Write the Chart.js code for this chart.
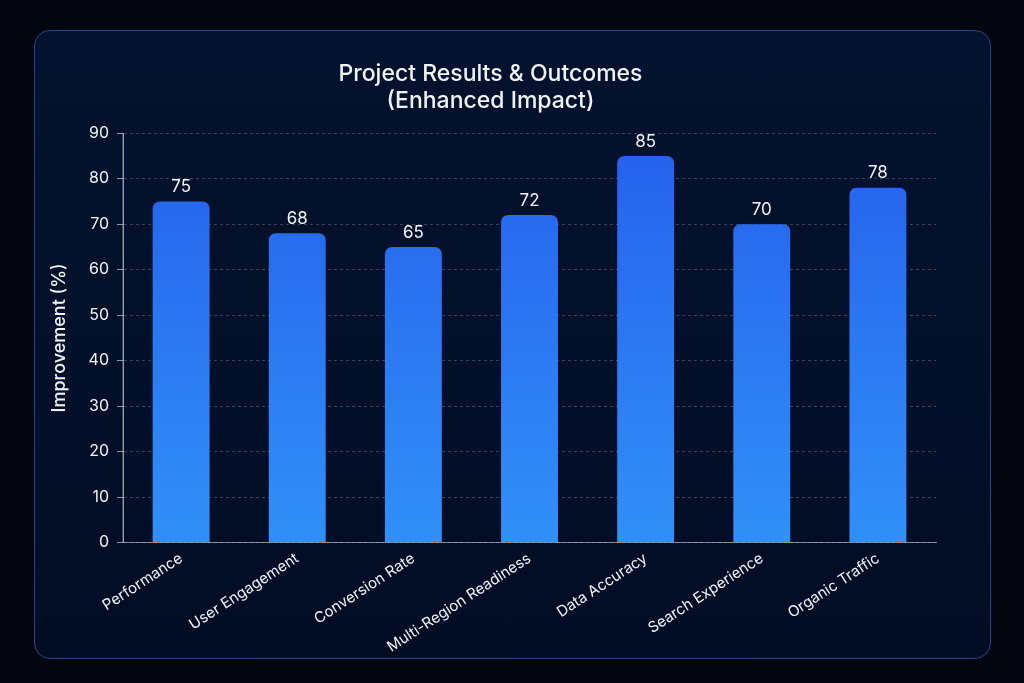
<!DOCTYPE html>
<html>
<head>
<meta charset="utf-8">
<script src="https://cdn.jsdelivr.net/npm/chart.js@4.4.1/dist/chart.umd.min.js"></script>
<style>
  html, body { margin: 0; padding: 0; background: #03050f; width: 1024px; height: 683px; overflow: hidden; }
  #card {
    position: absolute; left: 34px; top: 30px; width: 955px; height: 627px;
    border: 1.5px solid #1f4590; border-radius: 16px;
    background: linear-gradient(180deg, #03122e 0%, #020d24 100%);
  }
  canvas { display: block; }
</style>
</head>
<body>
<div id="card"><canvas id="resultsChart" width="955" height="627"></canvas></div>
<script>
// Chart data
const categories = ['Performance', 'User Engagement', 'Conversion Rate', 'Multi-Region Readiness',
                    'Data Accuracy', 'Search Experience', 'Organic Traffic'];
const improvement = [75, 68, 65, 72, 85, 70, 78];
const yTicks = [0, 10, 20, 30, 40, 50, 60, 70, 80, 90];

// draws the value above each bar
const valueLabels = {
    id: 'valueLabels',
    afterDatasetsDraw(chart) {
        const ctx = chart.ctx;
        const meta = chart.getDatasetMeta(0);
        ctx.save();
        ctx.fillStyle = '#f1f5f9';
        ctx.font = '17px Inter, sans-serif';
        ctx.textAlign = 'center';
        ctx.textBaseline = 'bottom';
        meta.data.forEach((bar, i) => {
            ctx.fillText(chart.data.datasets[0].data[i], bar.x, bar.y - 6);
        });
        ctx.restore();
    }
};

const ctx = document.getElementById('resultsChart').getContext('2d');
const resultsChart = new Chart(ctx, {
    type: 'bar',
    data: {
        labels: categories,
        datasets: [{
            label: 'Improvement (%)',
            data: improvement,
            backgroundColor: (context) => {
                const area = context.chart.chartArea;
                if (!area) return '#2a75f0';
                const g = context.chart.ctx.createLinearGradient(0, area.top, 0, area.bottom);
                g.addColorStop(0, '#2560ec');
                g.addColorStop(1, '#3190f8');
                return g;
            },
            borderRadius: { topLeft: 7, topRight: 7 },
            borderSkipped: 'bottom',
            categoryPercentage: 1.0,
            barPercentage: 0.49
        }]
    },
    options: {
        responsive: false,
        animation: false,
        layout: { padding: { left: 10, right: 54, top: 29, bottom: 0 } },
        plugins: {
            legend: { display: false },
            tooltip: { enabled: false },
            title: {
                display: true,
                text: ['Project Results & Outcomes', '(Enhanced Impact)'],
                color: '#f1f5f9',
                font: { family: 'Inter, sans-serif', size: 23, weight: '500', lineHeight: 1.2 },
                padding: { top: 0, bottom: 18 }
            }
        },
        scales: {
            y: {
                min: 0, max: 90,
                afterBuildTicks: (axis) => { axis.ticks = yTicks.map(v => ({ value: v })); },
                ticks: { color: '#f1f5f9', font: { family: 'Inter, sans-serif', size: 16 }, padding: 8 },
                grid: {
                    color: 'rgba(148,163,184,0.35)',
                    tickColor: 'rgba(203,213,225,0.7)',
                    tickLength: 6,
                    drawTicks: true
                },
                border: { display: true, color: 'rgba(203,213,225,0.6)', dash: [3, 3] },
                title: {
                    display: true, text: 'Improvement (%)', color: '#f1f5f9',
                    font: { family: 'Inter, sans-serif', size: 18, weight: '500' }, padding: { bottom: 10 }
                }
            },
            x: {
                grid: { display: false, drawTicks: true, tickLength: 5, tickColor: 'rgba(203,213,225,0.6)' },
                border: { display: true, color: 'rgba(203,213,225,0.6)' },
                ticks: {
                    color: '#f1f5f9', font: { family: 'Inter, sans-serif', size: 15 },
                    maxRotation: 33, minRotation: 33, padding: 2
                }
            }
        }
    },
    plugins: [valueLabels, {
        id: 'solidYAxis',
        afterDraw(chart) {
            const c = chart.ctx, a = chart.chartArea;
            c.save();
            c.strokeStyle = 'rgba(203,213,225,0.6)';
            c.lineWidth = 1;
            c.beginPath();
            c.moveTo(a.left, a.top);
            c.lineTo(a.left, a.bottom);
            c.stroke();
            c.restore();
        }
    }]
});
</script>
</body>
</html>
